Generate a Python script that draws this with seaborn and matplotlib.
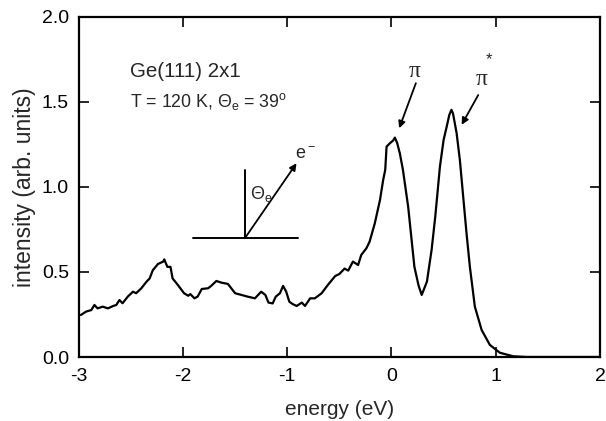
import matplotlib
matplotlib.use("Agg")
import matplotlib.pyplot as plt
import seaborn as sns
import pandas as pd

# ---- data ----
energy = [-2.98, -2.93, -2.88, -2.85, -2.82, -2.77, -2.72, -2.67, -2.64, -2.61,
          -2.58, -2.53, -2.48, -2.45, -2.40, -2.35, -2.32, -2.29, -2.24, -2.19,
          -2.18, -2.15, -2.12, -2.10, -2.05, -1.99, -1.95, -1.93, -1.89, -1.86,
          -1.82, -1.76, -1.73, -1.68, -1.63, -1.57, -1.50, -1.44, -1.38, -1.31,
          -1.25, -1.21, -1.18, -1.14, -1.11, -1.07, -1.04, -1.01, -0.98, -0.95,
          -0.91, -0.86, -0.83, -0.78, -0.735, -0.67, -0.61, -0.54, -0.50, -0.45,
          -0.415, -0.37, -0.32, -0.29, -0.24, -0.21, -0.16, -0.11, -0.08, -0.06,
          -0.047, -0.015, 0.016, 0.033, 0.055, 0.08, 0.11, 0.16, 0.22, 0.26,
          0.29, 0.34, 0.385, 0.42, 0.465, 0.50, 0.53, 0.555, 0.575, 0.59,
          0.625, 0.656, 0.688, 0.72, 0.752, 0.80, 0.865, 0.944, 1.04, 1.17,
          1.30, 1.50, 1.75, 2.00]
intensity = [0.247, 0.267, 0.276, 0.306, 0.286, 0.296, 0.286, 0.300, 0.306, 0.335,
             0.316, 0.355, 0.384, 0.375, 0.404, 0.443, 0.462, 0.510, 0.547, 0.561,
             0.574, 0.530, 0.530, 0.462, 0.424, 0.375, 0.360, 0.370, 0.345, 0.355,
             0.400, 0.404, 0.418, 0.447, 0.437, 0.430, 0.375, 0.365, 0.355, 0.345,
             0.384, 0.365, 0.320, 0.315, 0.355, 0.375, 0.418, 0.384, 0.325, 0.312,
             0.300, 0.320, 0.300, 0.345, 0.345, 0.375, 0.424, 0.476, 0.488, 0.520,
             0.508, 0.561, 0.541, 0.600, 0.640, 0.678, 0.786, 0.924, 1.040, 1.100,
             1.237, 1.257, 1.273, 1.290, 1.257, 1.198, 1.100, 0.884, 0.530, 0.420,
             0.365, 0.443, 0.630, 0.825, 1.120, 1.276, 1.355, 1.424, 1.453, 1.433,
             1.316, 1.159, 0.943, 0.728, 0.531, 0.296, 0.159, 0.071, 0.025, 0.004,
             0.000, 0.000, 0.000, 0.000]

x_ticks = [-3, -2, -1, 0, 1, 2]
y_ticks = [0.0, 0.5, 1.0, 1.5, 2.0]
y_tick_labels = ["0.0", "0.5", "1.0", "1.5", "2.0"]

df = pd.DataFrame({"energy": energy, "intensity": intensity})

sns.set_style("ticks")
plt.rcParams["font.family"] = ["Liberation Sans", "DejaVu Sans"]
plt.rcParams["mathtext.default"] = "regular"

fig = plt.figure(figsize=(6.06, 4.21), dpi=100)
ax = fig.add_axes([0.130, 0.152, 0.860, 0.808])

sns.lineplot(data=df, x="energy", y="intensity", ax=ax, color="black",
             linewidth=1.6, sort=False)

ax.set_xlim(-3, 2)
ax.set_ylim(0, 2)
ax.set_xticks(x_ticks)
ax.set_xticklabels([str(t) for t in x_ticks])
ax.set_yticks(y_ticks)
ax.set_yticklabels(y_tick_labels)
ax.tick_params(direction="in", length=7.5, width=1.2, labelsize=14,
               top=True, right=True, colors="black")
ax.tick_params(axis="x", pad=8)
ax.tick_params(axis="y", pad=7)
for sp in ax.spines.values():
    sp.set_visible(True)
    sp.set_linewidth(1.6)
    sp.set_color("black")

ax.set_xlabel("energy (eV)", fontsize=15, labelpad=11)
ax.set_ylabel("intensity (arb. units)", fontsize=16.5, labelpad=4)

# text annotations
ax.text(-2.51, 1.68, "Ge(111) 2x1", fontsize=14.8, ha="left", va="center")
ax.text(-2.51, 1.50, r"T = 120 K, $\Theta_e$ = 39$^o$", fontsize=12.8,
        ha="left", va="center")

# geometry sketch
ax.plot([-1.903, -0.895], [0.698, 0.698], color="black", linewidth=1.4)
ax.plot([-1.407, -1.407], [0.698, 1.10], color="black", linewidth=1.4)
ax.annotate("", xy=(-0.911, 1.139), xytext=(-1.407, 0.698),
            arrowprops=dict(arrowstyle="-|>", color="black", lw=1.3,
                            mutation_scale=10, shrinkA=0, shrinkB=0))
ax.text(-1.25, 0.96, r"$\Theta_e$", fontsize=13, ha="center", va="center")
ax.text(-0.82, 1.19, r"e$^-$", fontsize=13, ha="center", va="center")

# peak labels
ax.text(0.225, 1.68, "π", fontsize=17, family=["Liberation Serif", "DejaVu Serif"],
        ha="center", va="center")
ax.annotate("", xy=(0.074, 1.345), xytext=(0.234, 1.61),
            arrowprops=dict(arrowstyle="-|>", color="black", lw=1.3,
                            mutation_scale=10, shrinkA=0, shrinkB=0))
ax.text(0.865, 1.63, "π", fontsize=17, family=["Liberation Serif", "DejaVu Serif"],
        ha="center", va="center")
ax.text(0.94, 1.75, "*", fontsize=12, ha="center", va="center")
ax.annotate("", xy=(0.673, 1.365), xytext=(0.832, 1.54),
            arrowprops=dict(arrowstyle="-|>", color="black", lw=1.3,
                            mutation_scale=10, shrinkA=0, shrinkB=0))

fig.savefig("out.png", dpi=100)
